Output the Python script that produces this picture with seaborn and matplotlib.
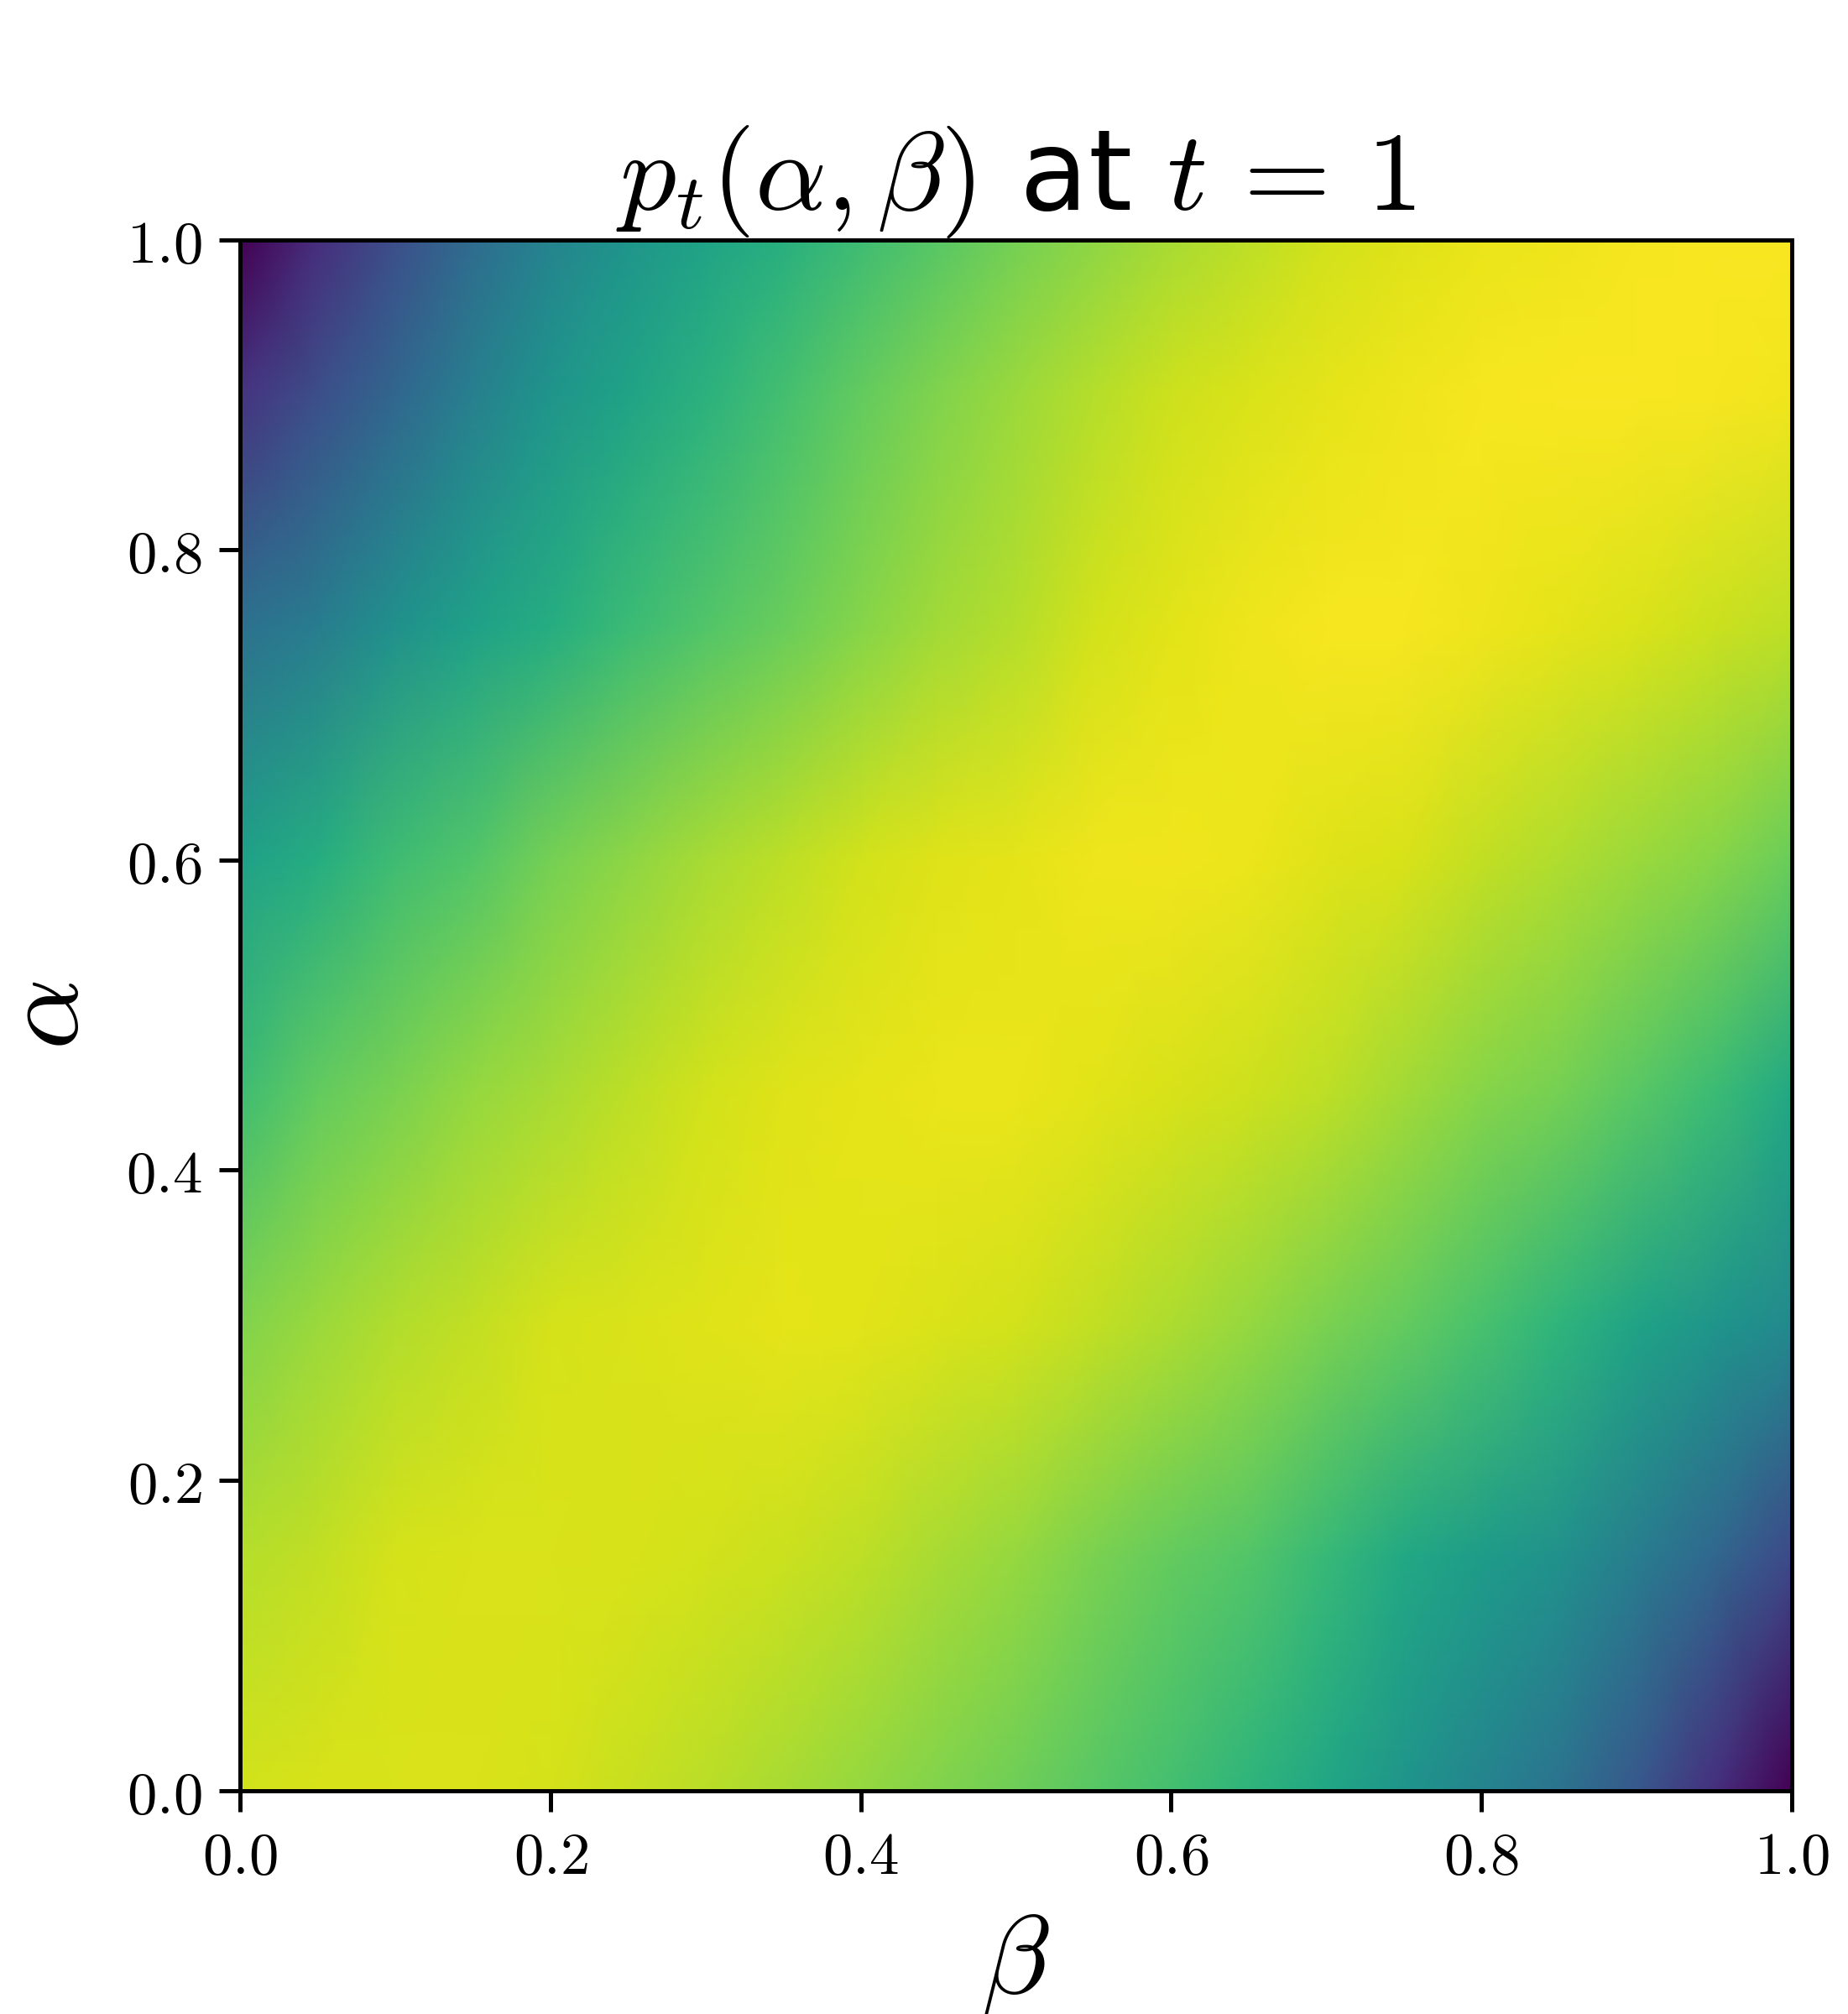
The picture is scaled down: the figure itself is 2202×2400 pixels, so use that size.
import numpy as np
import matplotlib
matplotlib.use("Agg")
import matplotlib.pyplot as plt
from matplotlib.ticker import FuncFormatter, MultipleLocator
import seaborn as sns

sns.set_theme(style="ticks")
plt.rcParams["font.family"] = ["DejaVu Sans"]
plt.rcParams["mathtext.fontset"] = "cm"
plt.rcParams["axes.edgecolor"] = "black"
plt.rcParams["text.color"] = "black"
plt.rcParams["axes.labelcolor"] = "black"
plt.rcParams["xtick.color"] = "black"
plt.rcParams["ytick.color"] = "black"

# grid (colour level on the viridis scale)
beta_grid = [0.0, 0.05, 0.1, 0.15, 0.2, 0.25, 0.3, 0.35, 0.4, 0.45, 0.5,
             0.55, 0.6, 0.65, 0.7, 0.75, 0.8, 0.85, 0.9, 0.95, 1.0]
alpha_grid = [0.0, 0.15, 0.3, 0.45, 0.6, 0.75, 0.9, 1.0]

p_alpha_000 = [0.93, 0.94, 0.945, 0.945, 0.935, 0.915, 0.895, 0.87, 0.84, 0.81, 0.78,
               0.74, 0.70, 0.65, 0.59, 0.52, 0.45, 0.38, 0.27, 0.14, 0.00]
p_alpha_015 = [0.89, 0.91, 0.935, 0.945, 0.945, 0.94, 0.93, 0.92, 0.90, 0.87, 0.84,
               0.80, 0.76, 0.73, 0.67, 0.60, 0.55, 0.50, 0.42, 0.33, 0.22]
p_alpha_030 = [0.81, 0.85, 0.885, 0.91, 0.935, 0.945, 0.95, 0.96, 0.955, 0.945, 0.93,
               0.91, 0.875, 0.84, 0.80, 0.76, 0.71, 0.65, 0.58, 0.52, 0.47]
p_alpha_045 = [0.69, 0.76, 0.80, 0.84, 0.87, 0.90, 0.93, 0.95, 0.96, 0.965, 0.965,
               0.955, 0.94, 0.925, 0.90, 0.86, 0.82, 0.79, 0.74, 0.68, 0.60]
p_alpha_060 = [0.57, 0.62, 0.69, 0.73, 0.79, 0.83, 0.87, 0.90, 0.93, 0.95, 0.96,
               0.975, 0.978, 0.97, 0.95, 0.94, 0.91, 0.88, 0.85, 0.82, 0.77]
p_alpha_075 = [0.37, 0.42, 0.50, 0.57, 0.62, 0.68, 0.73, 0.77, 0.82, 0.86, 0.89,
               0.93, 0.955, 0.975, 0.985, 0.985, 0.975, 0.96, 0.945, 0.92, 0.90]
p_alpha_090 = [0.15, 0.24, 0.33, 0.43, 0.52, 0.58, 0.64, 0.70, 0.76, 0.81, 0.85,
               0.89, 0.925, 0.945, 0.96, 0.975, 0.985, 0.99, 0.99, 0.985, 0.98]
p_alpha_100 = [0.00, 0.13, 0.24, 0.35, 0.45, 0.52, 0.58, 0.63, 0.69, 0.74, 0.79,
               0.83, 0.87, 0.90, 0.93, 0.95, 0.965, 0.975, 0.985, 0.99, 0.99]

p_grid = np.array([p_alpha_000, p_alpha_015, p_alpha_030, p_alpha_045,
                   p_alpha_060, p_alpha_075, p_alpha_090, p_alpha_100])

fig = plt.figure(figsize=(7.34, 8.0), dpi=300)
ax = fig.add_axes([0.13, 0.111, 0.8395, 0.77])

cmap = sns.color_palette("viridis", as_cmap=True)
ax.pcolormesh(beta_grid, alpha_grid, p_grid, cmap=cmap, vmin=0, vmax=1,
              shading="gouraud", rasterized=True)

ax.set_xlim(0, 1)
ax.set_ylim(0, 1)
ax.xaxis.set_major_locator(MultipleLocator(0.2))
ax.yaxis.set_major_locator(MultipleLocator(0.2))
fmt = FuncFormatter(lambda v, _: f"${v:.1f}$")
ax.xaxis.set_major_formatter(fmt)
ax.yaxis.set_major_formatter(fmt)
ax.tick_params(labelsize=17, length=6, width=1.2, pad=5)
for s in ax.spines.values():
    s.set_linewidth(1.2)
    s.set_color("black")

ax.set_xlabel(r"$\beta$", fontsize=32, labelpad=6)
ax.set_ylabel(r"$\alpha$", fontsize=32, labelpad=7)
ax.set_title(r"$p_t(\alpha, \beta)$ at $t\,=\,1$", fontsize=32, pad=4)

fig.savefig("out.png", dpi=300)
